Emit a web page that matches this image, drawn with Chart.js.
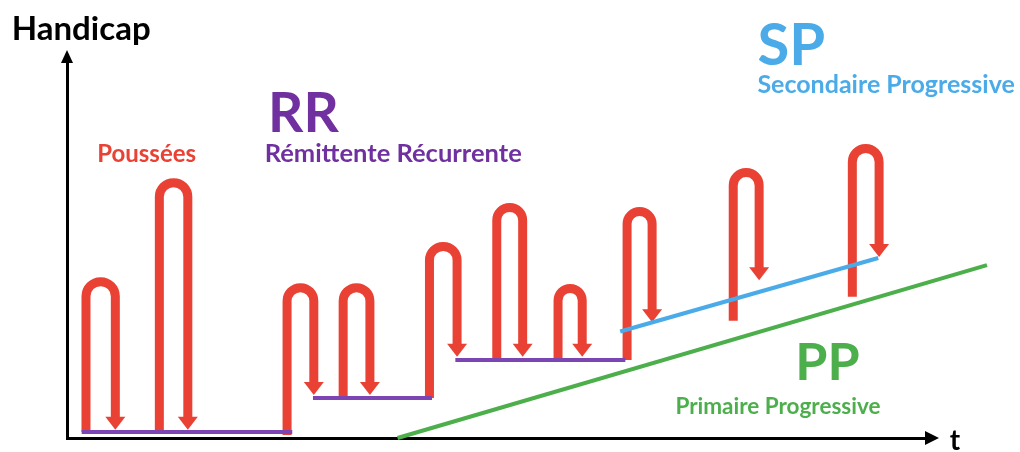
<!DOCTYPE html>
<html>
<head>
<meta charset="utf-8">
<script src="https://cdn.jsdelivr.net/npm/chart.js@4.4.1/dist/chart.umd.min.js"></script>
<style>
  html, body { margin: 0; padding: 0; background: #fff; }
  #wrap { width: 1020px; height: 452px; }
</style>
</head>
<body>
<div id="wrap"><canvas id="chart"></canvas></div>
<script>
// time (t) and handicap values
const relapseStart = [2.2, 10.7, 25.5, 32.0, 42.0, 49.8, 56.9, 64.9, 77.2, 91.0];
const relapseEnd = [5.6, 14.0, 28.6, 35.1, 45.2, 52.8, 59.7, 67.8, 80.2, 94.1];
const relapseFrom = [1.6, 1.6, 0.8, 10.7, 10.7, 20.8, 20.8, 20.8, 31.3, 37.7];
const relapsePeak = [41.7, 68.1, 40.1, 40.1, 51.1, 61.5, 39.9, 60.4, 70.8, 77.2];
const relapseTo = [2.2, 2.2, 11.5, 11.5, 21.7, 21.7, 21.7, 30.9, 42.1, 48.3];

// remission plateaus (RR)
const plateauFrom = [1.7, 28.5, 45.0];
const plateauTo = [26.1, 42.3, 64.7];
const plateauLevel = [1.6, 10.7, 20.8];

// secondary progressive and primary progressive lines
const spT = [64.1, 94.0];
const spH = [28.4, 48.0];
const ppT = [38.3, 106.6];
const ppH = [0, 46.1];

const RED = "#e94234";
const PURPLE = "#7030a0";
const PURPLE_LINE = "#7b45b3";
const BLUE = "#4aabe8";
const GREEN = "#4caf4c";
const FONT = "Lato, 'Open Sans', sans-serif";

const labels = [
  { text: "Handicap", t: -6.4, h: 106.1, size: 33, color: "#000" },
  { text: "Poussées", t: 3.5, h: 73.6, size: 24, color: RED },
  { text: "RR", t: 23.3, h: 81.6, size: 55, color: PURPLE },
  { text: "Rémittente Récurrente", t: 22.9, h: 73.6, size: 25.5, color: PURPLE },
  { text: "SP", t: 80.0, h: 99.5, size: 58, color: BLUE },
  { text: "Secondaire Progressive", t: 80.0, h: 92.0, size: 25, color: BLUE },
  { text: "PP", t: 84.4, h: 15.5, size: 52, color: GREEN },
  { text: "Primaire Progressive", t: 70.5, h: 6.4, size: 22.5, color: GREEN },
  { text: "t", t: 102.3, h: -3.2, size: 28, color: "#000" },
];

const plateaus = plateauFrom.map((t0, i) => ({
  data: [
    { x: t0, y: plateauLevel[i] },
    { x: plateauTo[i], y: plateauLevel[i] },
  ],
  borderColor: PURPLE_LINE,
  borderWidth: 4,
}));

const relapsePlugin = {
  id: "relapses",
  beforeDatasetsDraw(chart) {
    const { ctx, scales: { x, y } } = chart;
    ctx.save();
    ctx.strokeStyle = RED;
    ctx.fillStyle = RED;
    ctx.lineWidth = 9;
    relapseStart.forEach((t0, i) => {
      const x1 = x.getPixelForValue(t0);
      const x2 = x.getPixelForValue(relapseEnd[i]);
      const r = (x2 - x1) / 2;
      const top = y.getPixelForValue(relapsePeak[i]);
      const base = y.getPixelForValue(relapseFrom[i]);
      const tip = y.getPixelForValue(relapseTo[i]);
      ctx.beginPath();
      ctx.moveTo(x1, base);
      ctx.lineTo(x1, top + r);
      ctx.arc(x1 + r, top + r, r, Math.PI, 0);
      ctx.lineTo(x2, tip - 12);
      ctx.stroke();
      ctx.beginPath();
      ctx.moveTo(x2 - 10, tip - 13);
      ctx.lineTo(x2 + 10, tip - 13);
      ctx.lineTo(x2, tip);
      ctx.closePath();
      ctx.fill();
    });
    ctx.restore();
  },
  afterDraw(chart) {
    const { ctx, chartArea: a, scales: { x, y } } = chart;
    ctx.save();
    // axis arrow heads
    ctx.fillStyle = "#000";
    ctx.beginPath();
    ctx.moveTo(a.right - 5, a.bottom - 7);
    ctx.lineTo(a.right + 9, a.bottom);
    ctx.lineTo(a.right - 5, a.bottom + 7);
    ctx.closePath();
    ctx.fill();
    ctx.beginPath();
    ctx.moveTo(a.left - 6, a.top);
    ctx.lineTo(a.left, a.top - 13);
    ctx.lineTo(a.left + 6, a.top);
    ctx.closePath();
    ctx.fill();
    // labels
    ctx.textBaseline = "alphabetic";
    ctx.textAlign = "left";
    labels.forEach((l) => {
      ctx.font = "bold " + l.size + "px " + FONT;
      ctx.fillStyle = l.color;
      ctx.fillText(l.text, x.getPixelForValue(l.t), y.getPixelForValue(l.h));
    });
    ctx.restore();
  },
};

new Chart(document.getElementById("chart"), {
  type: "scatter",
  data: {
    datasets: [
      ...plateaus,
      {
        data: spT.map((t, i) => ({ x: t, y: spH[i] })),
        borderColor: BLUE,
        borderWidth: 4,
      },
      {
        data: ppT.map((t, i) => ({ x: t, y: ppH[i] })),
        borderColor: GREEN,
        borderWidth: 4,
      },
    ].map((d) => ({ ...d, showLine: true, pointRadius: 0, clip: false })),
  },
  options: {
    responsive: true,
    maintainAspectRatio: false,
    animation: false,
    layout: { padding: { left: 67, right: 90, top: 63, bottom: 14 } },
    plugins: { legend: { display: false }, tooltip: { enabled: false } },
    scales: {
      x: {
        type: "linear",
        min: 0,
        max: 100,
        grid: { display: false },
        ticks: { display: false },
        border: { color: "#000", width: 3 },
        afterFit: (s) => { s.height = 0; },
      },
      y: {
        type: "linear",
        min: 0,
        max: 100,
        grid: { display: false },
        ticks: { display: false },
        border: { color: "#000", width: 3 },
        afterFit: (s) => { s.width = 0; },
      },
    },
  },
  plugins: [relapsePlugin],
});
</script>
</body>
</html>
